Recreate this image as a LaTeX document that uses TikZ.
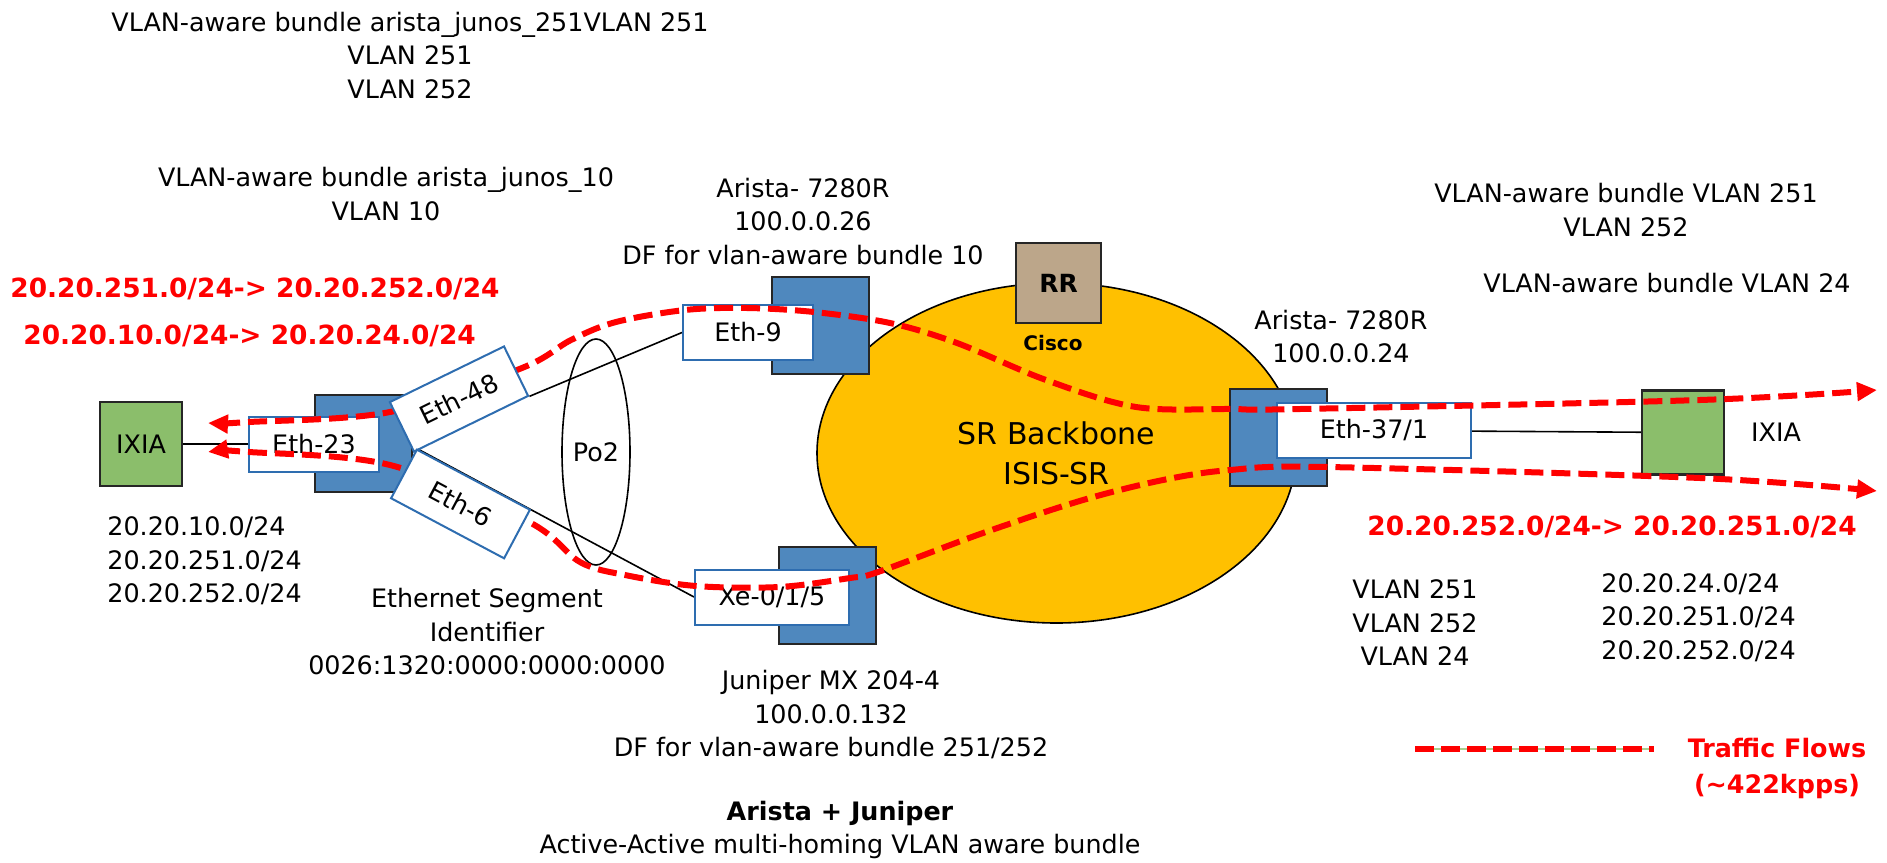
\documentclass[tikz,border=0pt]{standalone}
\usepackage{fontspec}
\setmainfont{DejaVu Sans}
\usetikzlibrary{arrows.meta, positioning, shapes.geometric, backgrounds}
\definecolor{switchBlue}{HTML}{4F88BE}
\definecolor{portBlue}{HTML}{2E6DB0}
\definecolor{ixiaGreen}{HTML}{8BBE6B}
\definecolor{rrTan}{HTML}{BCA68A}
\definecolor{coreGold}{HTML}{FFC000}
\definecolor{flowRed}{HTML}{FF0000}
\definecolor{legendGreen}{HTML}{A9CF8F}
\tikzset{
    % Devices
    switchBox/.style={rectangle, draw=black!85, line width=1pt, fill=switchBlue, minimum width=48.5pt, minimum height=48.5pt, inner sep=0pt},
    portBox/.style={rectangle, draw=portBlue, line width=1pt, fill=white, minimum height=27.5pt, inner sep=0pt},
    ixiaBox/.style={rectangle, draw=black!85, line width=1.2pt, fill=ixiaGreen, minimum width=41pt, minimum height=42pt, inner sep=0pt},
    rrBox/.style={rectangle, draw=black!85, line width=1pt, fill=rrTan, minimum width=42.5pt, minimum height=40pt, inner sep=0pt, font=\fontsize{12.5}{15}\selectfont\bfseries},
    coreCloud/.style={ellipse, draw=black, line width=0.8pt, fill=coreGold, minimum width=239.5pt, minimum height=170pt, inner sep=0pt, align=center, font=\fontsize{15}{20}\selectfont},
    % Links and flows
    link/.style={draw=black, line width=0.8pt},
    flow/.style={<->, >={Triangle[length=10pt,width=9pt]}, draw=flowRed, line width=3pt, dash pattern=on 9.5pt off 4pt},
    % Labels
    note/.style={inner sep=0pt, align=center},
    flowLabel/.style={inner sep=0pt, text=flowRed, font=\fontsize{13.2}{17}\selectfont\bfseries}
}
\begin{document}
\begin{tikzpicture}[x=0.5pt, y=-0.5pt, font=\fontsize{12.7}{16.75}\selectfont]
    \useasboundingbox (0,0) rectangle (1887,863);

    % SR core and route reflector
    \node[coreCloud] (core) at (1056.5,453) {SR Backbone\\ISIS-SR};
    \node[rrBox] (rr) at (1058.5,283) {RR};
    \node[note, font=\fontsize{10}{12}\selectfont\bfseries] (cisco) at (1053,343) {Cisco};

    % Switches
    \node[switchBox] (swLeft) at (363.5,443.5) {};
    \node[switchBox] (swTop) at (820.5,325) {};
    \node[switchBox] (swBottom) at (827,595.5) {};
    \node[switchBox] (swRight) at (1278.5,437) {};

    % Ports
    \node[portBox, minimum width=65pt] (eth23) at (314,444) {Eth-23};
    \node[portBox, minimum width=65pt] (eth9) at (748,332.5) {Eth-9};
    \node[portBox, minimum width=77pt] (xe015) at (772,597) {Xe-0/1/5};
    \node[portBox, minimum width=97pt] (eth371) at (1374,430.5) {Eth-37/1};

    % Testers
    \node[ixiaBox] (ixiaLeft) at (141,444) {IXIA};
    \node[ixiaBox] (ixiaRight) at (1683,432.5) {};
    \node[note] (ixiaRightLabel) at (1776,432) {IXIA};

    % Port-channel
    \node[draw, ellipse, line width=0.8pt, minimum width=34pt, minimum height=113pt, inner sep=0pt] (po2) at (596,452) {Po2};

    % Bundles and device labels
    \node[note] (bundleTop) at (410,55.5) {VLAN-aware bundle arista\_junos\_251VLAN 251\\VLAN 251\\VLAN 252};
    \node[note] (bundleTen) at (386,194) {VLAN-aware bundle arista\_junos\_10\\VLAN 10};
    \node[note] (aristaTopLabel) at (803,221.5) {Arista- 7280R\\100.0.0.26\\DF for vlan-aware bundle 10};
    \node[note, align=left, anchor=west] (prefixLeft) at (107,561) {20.20.10.0/24\\20.20.251.0/24\\20.20.252.0/24};
    \node[note] (esiLabel) at (487,632) {Ethernet Segment\\Identifier\\0026:1320:0000:0000:0000};
    \node[note] (juniperLabel) at (831,715) {Juniper MX 204-4\\100.0.0.132\\DF for vlan-aware bundle 251/252};
    \node[note] (titleLabel) at (840,830) {\textbf{Arista + Juniper}\\Active-Active multi-homing VLAN aware bundle};
    \node[note] (bundleRightA) at (1626,210) {VLAN-aware bundle VLAN 251\\VLAN 252};
    \node[note] (bundleRightB) at (1667,283) {VLAN-aware bundle VLAN 24};
    \node[note] (aristaRightLabel) at (1341,336.5) {Arista- 7280R\\100.0.0.24};
    \node[note] (vlanRight) at (1415,623) {VLAN 251\\VLAN 252\\VLAN 24};
    \node[note, align=left, anchor=west] (prefixRight) at (1601,617.5) {20.20.24.0/24\\20.20.251.0/24\\20.20.252.0/24};

    % Flow labels
    \node[flowLabel, anchor=west] (flowFwdA) at (10,289) {20.20.251.0/24-> 20.20.252.0/24};
    \node[flowLabel, anchor=west] (flowFwdB) at (23,336) {20.20.10.0/24-> 20.20.24.0/24};
    \node[flowLabel] (flowRev) at (1612,527) {20.20.252.0/24-> 20.20.251.0/24};

    % Traffic flows
    \coordinate (flowTopL) at (208,423);
    \coordinate (flowTopR) at (1877,390);
    \coordinate (flowLowL) at (208,452);
    \coordinate (flowLowR) at (1877,491);
    \draw[flow] plot[smooth, tension=0.55] coordinates {(flowTopL) (249,422) (390,412) (522,368) (571,340) (616,322) (685,310) (747,308) (814,312) (890,323) (957,343) (1046,380) (1136,407) (1232,409) (1300,409) (1700,400) (flowTopR)};
    \draw[flow] plot[smooth, tension=0.55] coordinates {(flowLowL) (249,452) (390,465) (529,522) (580,562) (625,575) (696,586) (779,587) (850,578) (878,572) (983,533) (1083,500) (1163,480) (1230,470) (1327,467) (1700,478) (flowLowR)};

    % Multi-homed member ports
    \node[portBox, minimum width=63.5pt, rotate=26] (eth48) at (459,399) {Eth-48};
    \node[portBox, minimum width=64pt, rotate=-28] (eth6) at (460.5,504) {Eth-6};

    % Links
    \begin{scope}[on background layer]
        \draw[link] (ixiaLeft) -- (eth23);
        \draw[link] (eth48.south east) -- (eth9.west);
        \draw[link] (eth6.north west) -- (xe015.west);
        \draw[link] (eth371) -- (ixiaRight);
    \end{scope}

    % Legend
    \coordinate (legendA) at (1415,749);
    \coordinate (legendB) at (1654,749);
    \draw[legendGreen, line width=0.6pt] (legendA) -- (legendB);
    \draw[flowRed, line width=3pt, dash pattern=on 9.5pt off 3.5pt] (legendA) -- (legendB);
    \node[flowLabel, align=center, font=\fontsize{12.7}{18}\selectfont\bfseries] (legendLabel) at (1777,768) {Traffic Flows\\(\textasciitilde 422kpps)};
\end{tikzpicture}
\end{document}
